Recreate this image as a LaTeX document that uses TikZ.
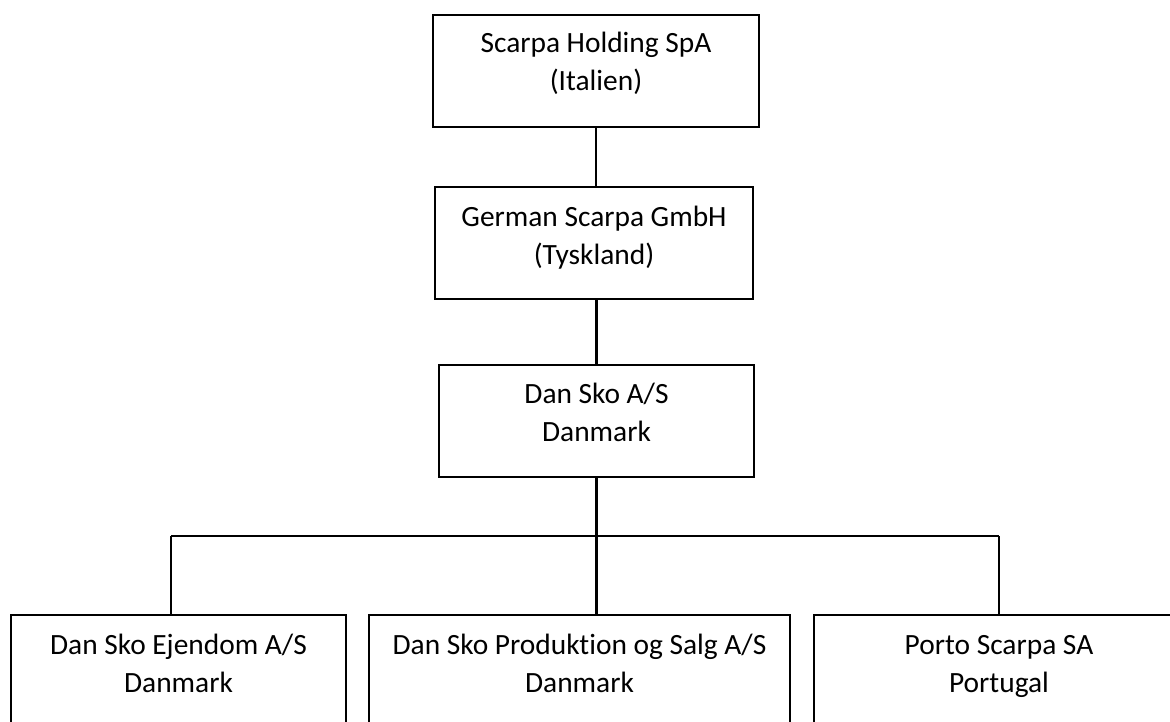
\documentclass[tikz,border=0pt]{standalone}
\usepackage{fontspec}
\setmainfont{Carlito}[Ligatures=NoCommon]
\usetikzlibrary{positioning}
\tikzset{
  orgbox/.style={draw,line width=2.2pt,inner sep=0pt,anchor=north,minimum height=112pt},
  orgtext/.style={align=center,anchor=base,inner sep=0pt,font=\fontsize{29.4}{38}\selectfont},
  link/.style={line width=2.2pt}
}
\begin{document}
\begin{tikzpicture}[x=1pt,y=-1pt]
  \useasboundingbox (0,0) rectangle (1170,722);
  \clip (0,0) rectangle (1170,722);
  % boxes, top edge given
  \node[orgbox,minimum width=326pt] (holding) at (596,14) {};
  \node[orgbox,minimum width=318pt] (german) at (594,186) {};
  \node[orgbox,minimum width=315pt] (dansko) at (596.5,363.5) {};
  \node[orgbox,minimum width=335pt] (ejendom) at (178.5,614) {};
  \node[orgbox,minimum width=421pt] (produktion) at (579.5,614) {};
  \node[orgbox,minimum width=370pt] (porto) at (999,614) {};
  % texts (base = last line)
  \node[orgtext] (holding-t) at ([yshift=-77pt]holding.north) {Scarpa Holding SpA\\(Italien)};
  \node[orgtext] (german-t) at ([yshift=-78pt]german.north) {German Scarpa GmbH\\(Tyskland)};
  \node[orgtext] (dansko-t) at ([yshift=-78pt]dansko.north) {Dan Sko A/S\\Danmark};
  \node[orgtext] (ejendom-t) at ([yshift=-78pt]ejendom.north) {Dan Sko Ejendom A/S\\Danmark};
  \node[orgtext] (produktion-t) at ([yshift=-78pt]produktion.north) {Dan Sko Produktion og Salg A/S\\Danmark};
  \node[orgtext] (porto-t) at ([yshift=-78pt]porto.north) {Porto Scarpa SA\\Portugal};
  % connectors
  \coordinate (busL) at (171,536);
  \coordinate (busR) at (999,536);
  \draw[link] (holding.south) -- (holding.south |- german.north);
  \draw[link] (german.south -| dansko.north) -- (dansko.north);
  \draw[link] (dansko.south) -- (produktion.north -| dansko.south);
  \draw[link] (busL) -- (busR);
  \draw[link] (busL) -- (busL |- ejendom.north);
  \draw[link] (busR) -- (porto.north);
\end{tikzpicture}
\end{document}
